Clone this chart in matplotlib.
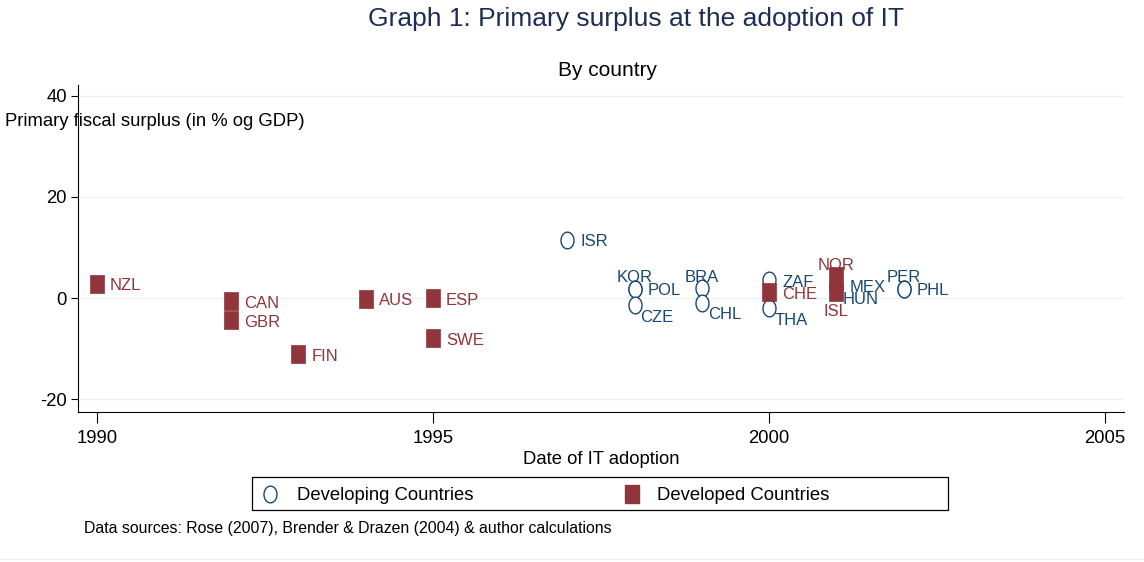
import numpy as np
import matplotlib.pyplot as plt
from matplotlib.lines import Line2D
from matplotlib.patches import Rectangle

plt.rcParams['font.family'] = ['Liberation Sans', 'DejaVu Sans']
plt.rcParams['axes.unicode_minus'] = False

# developing countries (hollow circles)
dev_names = ['ISR', 'KOR', 'POL', 'CZE', 'BRA', 'CHL', 'ZAF', 'THA', 'MEX', 'HUN', 'PER', 'PHL']
dev_year = [1997, 1998, 1998, 1998, 1999, 1999, 2000, 2000, 2001, 2001, 2002, 2002]
dev_surplus = [11.5, 1.8, 1.8, -1.4, 1.9, -0.9, 3.5, -2.0, 2.4, 2.0, 1.8, 1.8]

# developed countries (filled squares)
ind_names = ['NZL', 'CAN', 'GBR', 'FIN', 'AUS', 'ESP', 'SWE', 'CHE', 'NOR', 'ISL']
ind_year = [1990, 1992, 1992, 1993, 1994, 1995, 1995, 2000, 2001, 2001]
ind_surplus = [2.8, -0.6, -4.4, -11.1, -0.1, 0.0, -7.9, 1.2, 4.3, 1.2]

xticks = [1990, 1995, 2000, 2005]
yticks = [-20, 0, 20, 40]

# label clock positions (stata style), default 3 o'clock
clock = {'KOR': 12, 'CZE': 4, 'BRA': 12, 'CHL': 4, 'THA': 4, 'HUN': 4,
         'PER': 12, 'NOR': 12, 'ISL': 6}
# offsets in pixels (dx, dy downwards)
offs = {3: (13, 2), 12: (0, -11), 4: (6, 12), 6: (0, 19)}

BLUE = '#1a476f'
RED = '#90353b'

# markers are a bit taller than wide in the original
sq = [(-0.39, -0.5), (0.39, -0.5), (0.39, 0.5), (-0.39, 0.5), (-0.39, -0.5)]
t = np.linspace(0, 2 * np.pi, 60)
ell = list(zip(0.39 * np.cos(t), 0.5 * np.sin(t)))

W, H = 1144, 562
fig = plt.figure(figsize=(W / 100, H / 100), dpi=100)
ax = fig.add_axes([78 / W, 1 - 412 / H, (1124 - 78) / W, (412 - 85) / H])

ax.plot(dev_year, dev_surplus, ls='none', marker=ell, ms=12, mfc='white',
        mec=BLUE, mew=1.0, zorder=3)
ax.plot(ind_year, ind_surplus, ls='none', marker=sq, ms=13.5, mfc=RED,
        mec=RED, mew=0.5, zorder=4)

def put_labels(names, xs, ys, col):
    for n, x, y in zip(names, xs, ys):
        pos = clock.get(n, 3)
        dx, dy = offs[pos]
        ha = 'left' if pos in (3, 4) else 'center'
        ax.annotate(n, (x, y), xytext=(dx * 0.72, -dy * 0.72), textcoords='offset points',
                    ha=ha, va='center', color=col, fontsize=12, zorder=5)

put_labels(dev_names, dev_year, dev_surplus, BLUE)
put_labels(ind_names, ind_year, ind_surplus, RED)

ax.set_xlim(1989.72, 2005.28)
ax.set_ylim(-22.5, 42.1)
ax.set_xticks(xticks)
ax.set_yticks(yticks)
ax.tick_params(axis='y', length=5, width=0.8, labelsize=13.3, pad=3)
ax.tick_params(axis='x', length=8, width=0.8, labelsize=13.3, pad=5)
for y in yticks:
    ax.axhline(y, color='#eaf2f3', lw=1.0, zorder=0)
ax.spines['top'].set_visible(False)
ax.spines['right'].set_visible(False)

ax.set_xlabel('Date of IT adoption', fontsize=13.3, labelpad=3)
fig.text(5 / W, 1 - 122 / H, 'Primary fiscal surplus (in % og GDP)', fontsize=13.3,
         ha='left', va='center')

fig.text(636 / W, 1 - 19 / H, 'Graph 1: Primary surplus at the adoption of IT',
         fontsize=19, color='#1e2d53', ha='center', va='center')
fig.text(607 / W, 1 - 71 / H, 'By country', fontsize=15, ha='center', va='center')

# legend box drawn by hand to match the stata layout
fig.add_artist(Rectangle((252 / W, 1 - 510 / H), (948 - 252) / W, 33 / H,
                         transform=fig.transFigure, fill=False, ec='black', lw=0.9))
ly = 1 - 494 / H
fig.add_artist(Line2D([270 / W], [ly], ls='none', marker=ell, ms=12, mfc='white',
                      mec=BLUE, mew=1.0, transform=fig.transFigure))
fig.add_artist(Line2D([632 / W], [ly], ls='none', marker=sq, ms=13.5, mfc=RED,
                      mec=RED, transform=fig.transFigure))
fig.text(297 / W, 1 - 496 / H, 'Developing Countries', fontsize=13.3, ha='left', va='center')
fig.text(657 / W, 1 - 496 / H, 'Developed Countries', fontsize=13.3, ha='left', va='center')

fig.text(84 / W, 1 - 529 / H,
         'Data sources: Rose (2007), Brender & Drazen (2004) & author calculations',
         fontsize=11.4, ha='left', va='center')

fig.add_artist(Line2D([0, 1], [1 - 559 / H] * 2, color='#eaf2f3', lw=1))

fig.savefig('out.png', dpi=100)
